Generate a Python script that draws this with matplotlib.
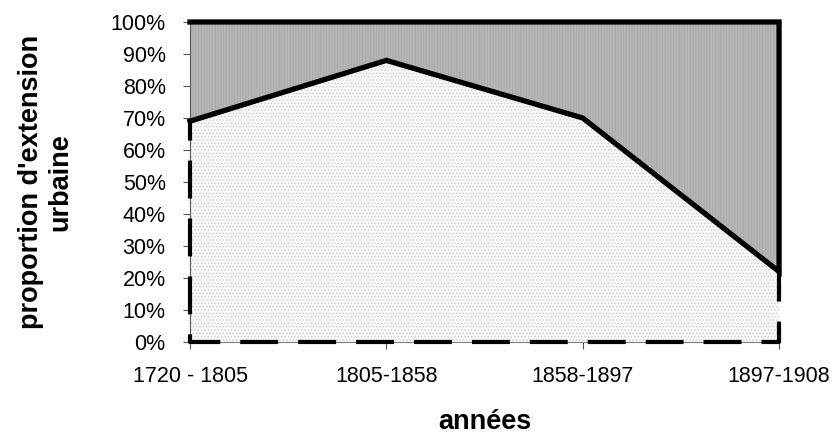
import numpy as np
import matplotlib.pyplot as plt
from matplotlib.ticker import FixedLocator, PercentFormatter

plt.rcParams['font.family'] = ['Liberation Sans', 'DejaVu Sans']
plt.rcParams['hatch.linewidth'] = 0.6

# periods and share of urban extension (%)
periods = ["1720 - 1805", "1805-1858", "1858-1897", "1897-1908"]
share_low = [69, 88, 70, 22]
share_high = [31, 12, 30, 78]

x = np.arange(len(periods))
low = np.array(share_low, dtype=float)
top = low + np.array(share_high, dtype=float)

fig = plt.figure(figsize=(8.36, 4.38), dpi=100)
ax = fig.add_axes([0.2273, 0.2192, 0.7046, 0.7306])

# stacked areas
ax.fill_between(x, 0, low, facecolor="#f7f7f7", edgecolor="#cfcfcf",
                hatch=".....", linewidth=0, zorder=1)
ax.fill_between(x, low, top, facecolor="#b6b6b6", edgecolor="#a9a9a9",
                hatch="||||||", linewidth=0, zorder=1)

# dashed border of the lower area (right edge, bottom, left edge)
bx = [x[-1], x[-1], x[0], x[0]]
by = [low[-1], 0, 0, low[0]]
ax.plot(bx, by, color="black", lw=3, ls=(2.0, (9.1, 4.8)),
        solid_capstyle="butt", clip_on=False, zorder=3)

# solid border of the upper area
ux = list(x) + [x[-1], x[0]]
uy = list(low) + [top[-1], top[0]]
ax.plot(ux, uy, color="black", lw=3.8, solid_joinstyle="miter",
        clip_on=False, zorder=4)

ax.set_xlim(0, 3)
ax.set_ylim(0, 100)
ax.yaxis.set_major_locator(FixedLocator(np.arange(0, 101, 10)))
ax.yaxis.set_major_formatter(PercentFormatter(decimals=0))
ax.set_xticks(x)
ax.set_xticklabels(periods)

for s in ["top", "right"]:
    ax.spines[s].set_visible(False)
ax.spines["left"].set_color("#555555")
ax.spines["bottom"].set_color("#808070")
ax.spines["left"].set_linewidth(0.8)
ax.spines["bottom"].set_linewidth(0.8)

ax.tick_params(axis="y", length=5, width=0.8, color="#555555",
               labelsize=15.5, pad=12.5)
ax.tick_params(axis="x", length=5, width=0.8, color="#555555",
               labelsize=15.5, pad=12)

fig.text(0.5796, 1 - 422 / 438, "années", fontsize=19.5,
         fontweight="bold", ha="center", va="center")
fig.text(46 / 836, 1 - 182 / 438, "proportion d'extension\nurbaine",
         fontsize=19.5, fontweight="bold", ha="center", va="center",
         rotation=90, linespacing=1.15)

plt.savefig("out.png", dpi=100)
